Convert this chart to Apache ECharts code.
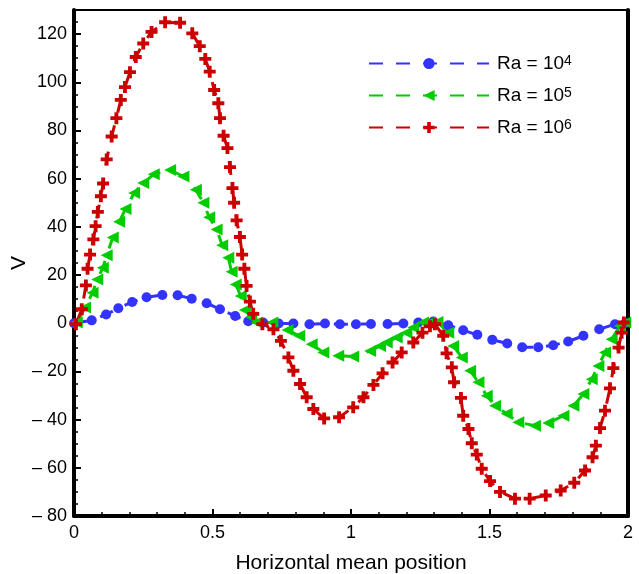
<!DOCTYPE html>
<html>
<head>
<meta charset="utf-8">
<script src="https://cdn.jsdelivr.net/npm/echarts@6/dist/echarts.min.js"></script>
<style>
  html, body { margin: 0; padding: 0; background: #fff; }
  #chart { width: 639px; height: 574px; }
</style>
</head>
<body>
<div id="chart"></div>
<script>
// Vertical velocity V along the horizontal mean line for three Rayleigh numbers
const seriesNames = ['Ra = 10^4', 'Ra = 10^5', 'Ra = 10^6'];
const seriesColors = ['#3333ff', '#00cc00', '#cc0000'];

const ra4 = [
  [0.0, 0], [0.064, 1.2], [0.116, 3.6], [0.16, 6.2], [0.21, 8.8], [0.262, 10.8],
  [0.319, 11.7], [0.374, 11.6], [0.425, 10.2], [0.479, 8.3], [0.527, 5.8],
  [0.582, 3.0], [0.629, 0.8], [0.683, 0.3], [0.739, -0.1], [0.792, -0.1],
  [0.85, -0.4], [0.906, -0.1], [0.96, -0.4], [1.018, -0.4], [1.072, -0.3],
  [1.132, -0.3], [1.189, -0.1], [1.243, 0.3], [1.297, 0.7], [1.351, -0.8],
  [1.405, -2.9], [1.456, -4.8], [1.51, -6.9], [1.564, -8.4], [1.618, -10],
  [1.676, -10], [1.73, -9.1], [1.784, -7.6], [1.839, -5.2], [1.896, -2.5],
  [1.953, -0.4], [1.99, 0]
];

const ra5 = [
  [0.01, 0.3], [0.04, 6.5], [0.067, 12.7], [0.084, 18.2], [0.104, 23], [0.118, 28.2],
  [0.14, 35.6], [0.163, 42.1], [0.186, 47.4], [0.217, 54], [0.25, 58.2], [0.288, 61.8],
  [0.347, 63.6], [0.395, 60.9], [0.44, 55.4], [0.467, 50], [0.488, 44], [0.515, 38.9],
  [0.535, 32.4], [0.557, 27.2], [0.569, 21.4], [0.584, 16.1], [0.602, 11.3],
  [0.617, 5.5], [0.64, 2.5], [0.66, 0.3], [0.716, 0.3], [0.771, -2.8], [0.813, -5.2],
  [0.858, -8.7], [0.9, -12.1], [0.954, -13.5], [1.008, -13.8], [1.069, -11.5],
  [1.105, -9.4], [1.129, -8], [1.165, -5.9], [1.2, -3.9], [1.225, -1.8], [1.26, 0.3],
  [1.285, 0.3], [1.312, 0.5], [1.351, -3.9], [1.369, -9.4], [1.4, -14.2], [1.43, -19.7],
  [1.46, -24.5], [1.49, -30.1], [1.52, -34.2], [1.562, -37.6], [1.604, -41.1],
  [1.664, -42.5], [1.712, -41.4], [1.767, -38.4], [1.803, -34.2], [1.839, -29.4],
  [1.869, -23.2], [1.893, -17.7], [1.917, -12.1], [1.941, -6.6], [1.971, -1.1],
  [1.99, 0.3]
];

const ra6 = [
  [0.007, -0.4], [0.028, 5.8], [0.043, 15.7], [0.049, 22.6], [0.058, 28.5], [0.07, 34.8],
  [0.078, 40.3], [0.086, 46.2], [0.097, 52.7], [0.105, 58], [0.118, 68], [0.136, 77.5],
  [0.153, 85.1], [0.169, 92.7], [0.184, 98], [0.202, 104.2], [0.223, 110.5],
  [0.25, 116.1], [0.28, 120.9], [0.329, 124.9], [0.383, 124.7], [0.427, 120.3],
  [0.454, 115], [0.474, 109.7], [0.49, 104.4], [0.506, 96.8], [0.521, 91.3],
  [0.527, 85.1], [0.54, 77.8], [0.554, 72.7], [0.563, 64.8], [0.572, 56.1], [0.578, 50],
  [0.587, 42.7], [0.599, 35.8], [0.607, 28.5], [0.615, 22.6], [0.623, 15.5],
  [0.635, 9], [0.647, 3.9], [0.68, -0.4], [0.72, -2.5], [0.747, -7.3], [0.774, -14.2],
  [0.792, -19.7], [0.816, -25.2], [0.84, -30.7], [0.864, -35.6], [0.903, -39.5],
  [0.957, -39], [1.008, -34.9], [1.045, -30.7], [1.081, -25.6], [1.114, -20.8],
  [1.15, -16.3], [1.183, -12.1], [1.225, -8], [1.258, -3.9], [1.285, -1.3],
  [1.303, -0.4], [1.333, -5.2], [1.345, -12.5], [1.364, -18.3], [1.372, -24.5],
  [1.397, -31], [1.405, -38.4], [1.424, -43.9], [1.436, -49.8], [1.454, -54.5],
  [1.472, -60.4], [1.502, -65.5], [1.538, -70], [1.592, -72.8], [1.645, -72.8],
  [1.703, -71.5], [1.757, -69.4], [1.806, -66.2], [1.845, -61.1], [1.872, -55.6],
  [1.884, -50.8], [1.899, -43.5], [1.917, -36.3], [1.935, -27], [1.947, -18.6],
  [1.966, -10.1], [1.977, -3.9], [1.985, 0.3]
];

const xTicks = { min: 0, max: 2, step: 0.5 };
const yTicks = { min: -80, max: 130, step: 20 };

const FONT = 'Liberation Sans, Arial, Helvetica, sans-serif';

// marker shapes: filled circle, left-pointing triangle, plus sign
const SYM_TRI_LEFT = 'path://M0,5 L10,0 L10,10 Z';
const SYM_PLUS = 'path://M3.4,0 H6.6 V3.4 H10 V6.6 H6.6 V10 H3.4 V6.6 H0 V3.4 H3.4 Z';

function makeSeries(name, data, color, symbol, size) {
  return {
    name: name,
    type: 'line',
    data: data,
    symbol: symbol,
    symbolSize: size,
    showAllSymbol: true,
    itemStyle: { color: color },
    lineStyle: { color: color, width: 3, type: [14, 13] },
    emphasis: { disabled: true },
    animation: false
  };
}

function negDash(v) {
  return v < 0 ? '\u2013 ' + Math.abs(v) : String(v);
}

const chart = echarts.init(document.getElementById('chart'), null, { renderer: 'canvas' });

chart.setOption({
  backgroundColor: '#ffffff',
  animation: false,
  textStyle: { fontFamily: FONT, color: '#000' },
  grid: { left: 74, right: 11, top: 10, bottom: 58, show: false, containLabel: false, outerBoundsMode: 'none' },
  legend: {
    orient: 'vertical',
    left: 363,
    top: 49,
    itemWidth: 120,
    itemHeight: 14,
    itemGap: 13,
    data: seriesNames,
    formatter: function (name) {
      const parts = name.split('^');
      return '{n|' + parts[0] + '}{s|' + parts[1] + '}';
    },
    textStyle: {
      fontFamily: FONT,
      color: '#000',
      padding: [0, 0, 0, 3],
      rich: {
        n: { fontSize: 19, fontFamily: FONT, color: '#000', lineHeight: 20 },
        s: { fontSize: 14, fontFamily: FONT, color: '#000', padding: [0, 0, 5, 0] }
      }
    }
  },
  xAxis: [{
    type: 'value',
    min: xTicks.min,
    max: xTicks.max,
    interval: xTicks.step,
    name: 'Horizontal mean position',
    nameLocation: 'middle',
    nameGap: 37,
    nameTextStyle: { fontSize: 21, fontFamily: FONT, color: '#000' },
    axisLine: { show: true, onZero: false, lineStyle: { color: '#000', width: 4 } },
    axisTick: { show: true, inside: true, length: 7, lineStyle: { color: '#000', width: 2 } },
    minorTick: { show: true, splitNumber: 5, length: 4, lineStyle: { color: '#000', width: 1.5 } },
    axisLabel: {
      fontSize: 18, fontFamily: FONT, color: '#000', margin: 8,
      formatter: function (v) { return String(v); }
    },
    splitLine: { show: false }
  }, {
    type: 'value',
    position: 'top',
    min: xTicks.min,
    max: xTicks.max,
    axisLine: { show: true, onZero: false, lineStyle: { color: '#000', width: 2 } },
    axisTick: { show: false },
    axisLabel: { show: false },
    splitLine: { show: false }
  }],
  yAxis: [{
    type: 'value',
    min: yTicks.min,
    max: yTicks.max,
    interval: yTicks.step,
    name: 'V',
    nameLocation: 'middle',
    nameGap: 44,
    nameMoveOverlap: false,
    nameTextStyle: { fontSize: 21, fontFamily: FONT, color: '#000' },
    axisLine: { show: true, onZero: false, lineStyle: { color: '#000', width: 4 } },
    axisTick: { show: true, inside: true, length: 7, lineStyle: { color: '#000', width: 2 } },
    minorTick: { show: true, splitNumber: 4, length: 4, lineStyle: { color: '#000', width: 1.5 } },
    axisLabel: {
      fontSize: 18, fontFamily: FONT, color: '#000', margin: 7,
      showMaxLabel: false,
      formatter: negDash
    },
    splitLine: { show: false }
  }, {
    type: 'value',
    position: 'right',
    min: yTicks.min,
    max: yTicks.max,
    axisLine: { show: true, onZero: false, lineStyle: { color: '#000', width: 4 } },
    axisTick: { show: false },
    axisLabel: { show: false },
    splitLine: { show: false }
  }],
  series: [
    makeSeries(seriesNames[0], ra4, seriesColors[0], 'circle', 10),
    makeSeries(seriesNames[1], ra5, seriesColors[1], SYM_TRI_LEFT, 12),
    makeSeries(seriesNames[2], ra6, seriesColors[2], SYM_PLUS, 12)
  ]
});
</script>
</body>
</html>
